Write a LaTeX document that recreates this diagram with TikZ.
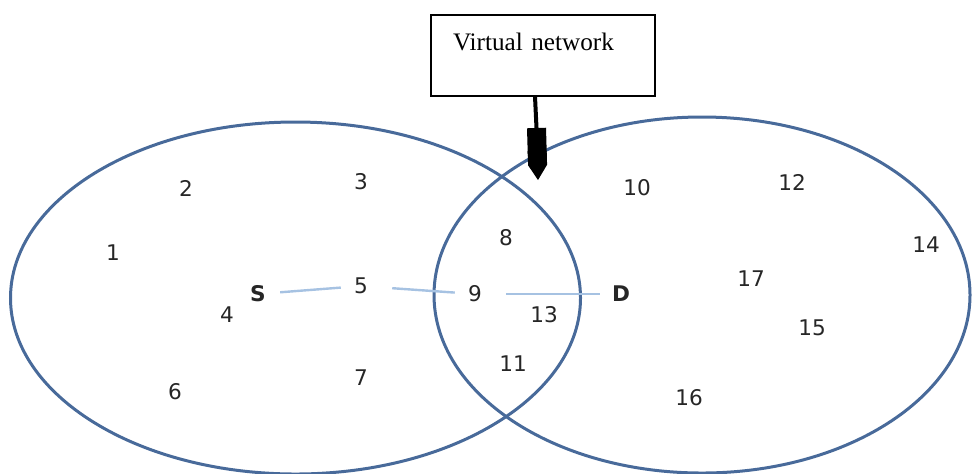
\documentclass[tikz,border=0pt]{standalone}
\usepackage{fontspec}
\setmainfont{Liberation Serif}
\newfontfamily\numfont{DejaVu Sans}
\usetikzlibrary{arrows.meta}

\begin{document}
\begin{tikzpicture}[x=0.5pt, y=-0.5pt]
		\tikzset{
			ring/.style={draw=ringblue, line width=1.5pt},
			num/.style={font=\numfont\fontsize{10.8}{12}\selectfont, text=black!85, inner sep=3pt},
			endpt/.style={num, font=\numfont\bfseries\fontsize{10.8}{12}\selectfont},
			link/.style={draw=linkblue, line width=1.2pt, shorten <=4pt, shorten >=3.5pt},
			labelbox/.style={draw, line width=0.6pt, align=left, text width=90pt, inner xsep=11pt, inner ysep=4.5pt, text height=13pt, text depth=18.5pt, font=\fontsize{12.6}{14}\selectfont}
		}
		\definecolor{ringblue}{RGB}{72,106,154}
		\definecolor{linkblue}{RGB}{166,194,226}
		\useasboundingbox (0,0) rectangle (972,473);

		% Two networks
		\draw[ring] (295.5,298) ellipse [x radius=142.5pt, y radius=88pt];
		\draw[ring] (702,295) ellipse [x radius=134pt, y radius=89pt];

		% Left network nodes
		\node[num] (n1) at (113,253) {1};
		\node[num] (n2) at (186,188) {2};
		\node[num] (n3) at (361,182) {3};
		\node[num] (n4) at (227,315) {4};
		\node[endpt] (src) at (258,294) {S};
		\node[num] (n5) at (361,286) {5};
		\node[num] (n6) at (175,392) {6};
		\node[num] (n7) at (361,378) {7};

		% Shared nodes
		\node[num] (n8) at (506,238) {8};
		\node[num] (n9) at (475,294) {9};
		\node[num] (n13) at (544,315) {13};
		\node[num] (n11) at (513,364) {11};

		% Right network nodes
		\node[num] (n10) at (637,188) {10};
		\node[num] (n12) at (792,182) {12};
		\node[num] (n14) at (926,245) {14};
		\node[num] (n17) at (751,279) {17};
		\node[endpt] (dst) at (621,294) {D};
		\node[num] (n15) at (812,328) {15};
		\node[num] (n16) at (689,398) {16};

		% Route from S to D
		\draw[link] (src) -- (n5);
		\draw[link, shorten <=9pt] (n5) -- (n9);
		\draw[link, shorten <=9pt, shorten >=3pt] (n9) -- (dst);

		% Annotation
		\node[labelbox, minimum width=112pt, minimum height=40.5pt] (vbox) at (543,55.5) {Virtual network};
		\coordinate (head) at (536.5,128);
		\coordinate (tip) at (538,180);
		\draw[line width=2pt] (vbox.south -| 535,0) -- (head);
		\draw[line width=9.5pt, -{Triangle Cap[length=7.5pt]}] (head) -- (tip);

	\end{tikzpicture}
\end{document}
